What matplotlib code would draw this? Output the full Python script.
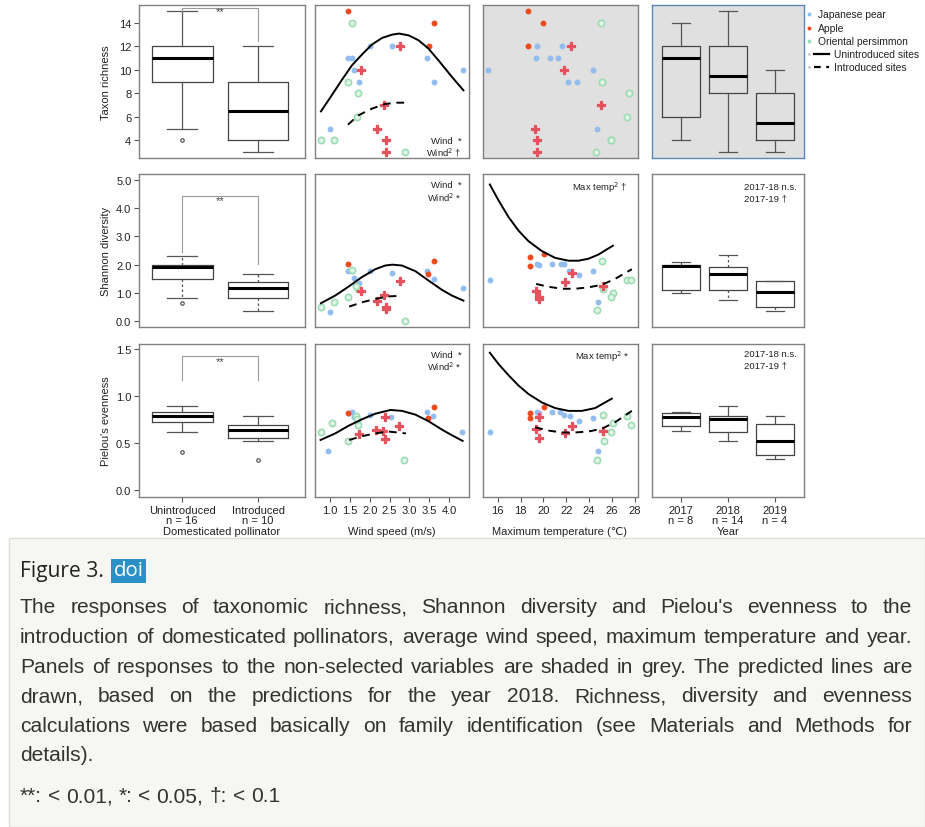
import matplotlib
matplotlib.use("Agg")
import matplotlib.pyplot as plt
from matplotlib.patches import Rectangle
from matplotlib.lines import Line2D

plt.rcParams['font.family'] = ['Liberation Sans', 'DejaVu Sans']

# ---------------- data ----------------
pollinator_labels = ['Unintroduced\nn = 16', 'Introduced\nn = 10']
year_labels = ['2017\nn = 8', '2018\nn = 14', '2019\nn = 4']
wind_ticks = [1.0, 1.5, 2.0, 2.5, 3.0, 3.5, 4.0]
temp_ticks = [16, 18, 20, 22, 24, 26, 28]
rich_ticks = [4, 6, 8, 10, 12, 14]
shan_ticks = [0.0, 1.0, 2.0, 3.0, 4.0, 5.0]
even_ticks = [0.0, 0.5, 1.0, 1.5]

# box stats: [whislo, q1, med, q3, whishi]
rich_poll = [[5, 9, 11, 12, 15], [3, 4, 6.5, 9, 12]]
rich_poll_out = [[4], []]
shan_poll = [[0.83, 1.51, 1.93, 1.98, 2.32], [0.35, 0.83, 1.17, 1.39, 1.67]]
shan_poll_out = [[0.64], []]
even_poll = [[0.615, 0.725, 0.79, 0.825, 0.89], [0.52, 0.55, 0.64, 0.69, 0.79]]
even_poll_out = [[0.405], [0.32]]
rich_year = [[4, 6, 11, 12, 14], [3, 8, 9.5, 12, 15], [3, 4, 5.5, 8, 10]]
shan_year = [[0.99, 1.12, 1.96, 1.99, 2.09], [0.75, 1.12, 1.66, 1.93, 2.35],
             [0.38, 0.49, 1.04, 1.43, 1.43]]
even_year = [[0.63, 0.68, 0.78, 0.815, 0.83], [0.52, 0.61, 0.75, 0.79, 0.89],
             [0.33, 0.37, 0.52, 0.70, 0.79]]

# groups: J = Japanese pear, A = Apple (unintroduced), a = Apple (introduced), O = Oriental persimmon
wr_x = [2.01, 2.57, 1.46, 1.55, 3.45, 1.61, 4.36, 1.73, 3.63, 0.99,
        1.46, 3.63, 3.48, 2.76, 1.77, 2.37, 2.17, 2.41, 2.41,
        1.55, 1.46, 1.71, 1.68, 0.77, 1.09, 2.88]
wr_y = [12, 12, 11, 11, 11, 10, 10, 9, 9, 5,
        15, 14, 12, 12, 10, 7, 5, 4, 3,
        14, 9, 8, 6, 4, 4, 3]
wr_g = 'JJJJJJJJJJAAAaaaaaaOOOOOOO'

ws_x = [1.44, 1.55, 1.61, 1.73, 2.01, 2.57, 3.45, 3.63, 4.36, 0.99,
        1.46, 3.63, 3.47, 1.77, 2.76, 2.37, 2.18, 2.41, 2.41,
        1.55, 1.70, 1.46, 1.09, 0.77, 2.88, 1.66]
ws_y = [1.77, 1.77, 1.52, 1.37, 1.77, 1.71, 1.77, 1.49, 1.17, 0.33,
        2.03, 2.14, 1.67, 1.08, 1.44, 0.94, 0.73, 0.52, 0.44,
        1.80, 1.15, 0.85, 0.68, 0.52, 0.02, 1.25]
ws_g = wr_g

we_x = [1.55, 3.43, 3.60, 2.00, 2.54, 1.71, 1.61, 0.96, 4.33, 1.47,
        1.44, 3.47, 3.62, 1.73, 2.39, 2.15, 2.33, 2.73, 2.39,
        1.65, 1.70, 1.06, 0.76, 1.44, 2.86, 1.68]
we_y = [0.83, 0.83, 0.79, 0.80, 0.78, 0.73, 0.77, 0.41, 0.62, 0.82,
        0.82, 0.76, 0.885, 0.59, 0.77, 0.64, 0.63, 0.68, 0.54,
        0.79, 0.69, 0.71, 0.615, 0.52, 0.32, 0.75]
we_g = wr_g

tr_x = [19.45, 21.67, 19.34, 20.62, 21.32, 15.17, 24.31, 22.15, 22.96, 24.69,
        18.69, 19.95, 18.63, 22.44, 21.85, 25.07, 19.28, 19.45, 19.45,
        25.07, 25.13, 27.53, 27.33, 25.92, 25.92, 24.60]
tr_y = [12, 12, 11, 11, 11, 10, 10, 9, 9, 5,
        15, 14, 12, 12, 10, 7, 5, 4, 3,
        14, 9, 8, 6, 4, 4, 3]
tr_g = wr_g

ts_x = [15.30, 19.45, 19.63, 20.74, 21.50, 21.80, 22.26, 23.08, 24.39, 24.78,
        18.78, 18.78, 20.04, 22.52, 21.93, 19.36, 19.57, 19.57, 25.22,
        25.22, 25.13, 26.10, 25.92, 27.35, 27.70, 24.69]
ts_y = [1.45, 2.03, 1.98, 2.02, 2.02, 2.02, 1.77, 1.64, 1.78, 0.69,
        2.26, 1.94, 2.36, 1.70, 1.40, 1.06, 0.87, 0.78, 1.25,
        1.14, 2.12, 1.01, 0.87, 1.45, 1.46, 0.40]
ts_g = wr_g

te_x = [15.30, 19.45, 20.74, 21.47, 21.85, 22.32, 23.08, 24.39, 24.78, 19.63,
        18.81, 18.78, 20.07, 19.39, 19.57, 19.57, 21.93, 22.52, 25.22,
        25.22, 26.10, 25.95, 25.28, 27.35, 27.70, 24.69]
te_y = [0.62, 0.83, 0.83, 0.83, 0.80, 0.79, 0.73, 0.76, 0.41, 0.82,
        0.82, 0.76, 0.885, 0.65, 0.77, 0.55, 0.60, 0.68, 0.63,
        0.80, 0.71, 0.62, 0.52, 0.79, 0.69, 0.32]
te_g = wr_g

# predicted lines
wr_fit_x = [0.77, 1.04, 1.29, 1.55, 1.80, 2.05, 2.31, 2.56, 2.74, 2.98, 3.23, 3.48, 3.73, 4.07, 4.36]
wr_fit_y = [6.46, 7.82, 9.10, 10.37, 11.28, 12.13, 12.70, 12.98, 13.07, 12.92, 12.50, 11.79, 10.80, 9.39, 8.25]
wr_int_x = [1.45, 1.71, 2.05, 2.39, 2.64, 2.89]
wr_int_y = [5.33, 6.12, 6.69, 7.09, 7.20, 7.20]
ws_fit_x = [0.77, 1.13, 1.46, 1.80, 2.14, 2.39, 2.57, 2.81, 3.15, 3.48, 3.82, 4.07, 4.36]
ws_fit_y = [0.64, 0.91, 1.22, 1.56, 1.84, 1.97, 2.00, 1.97, 1.77, 1.44, 1.11, 0.91, 0.73]
ws_int_x = [1.48, 1.80, 2.14, 2.47, 2.79]
ws_int_y = [0.52, 0.67, 0.79, 0.88, 0.90]
we_fit_x = [0.76, 1.13, 1.46, 1.80, 2.14, 2.52, 2.81, 3.15, 3.48, 3.82, 4.07, 4.34]
we_fit_y = [0.53, 0.60, 0.68, 0.75, 0.81, 0.85, 0.84, 0.80, 0.73, 0.64, 0.58, 0.52]
we_int_x = [1.48, 1.80, 2.14, 2.47, 2.91]
we_int_y = [0.53, 0.57, 0.60, 0.62, 0.60]
ts_fit_x = [15.30, 16.06, 16.94, 17.82, 18.69, 19.86, 21.03, 22.20, 23.08, 23.96, 24.84, 26.10]
ts_fit_y = [4.83, 4.27, 3.68, 3.20, 2.83, 2.48, 2.24, 2.14, 2.14, 2.21, 2.36, 2.67]
ts_int_x = [19.36, 20.45, 21.62, 22.79, 23.96, 25.13, 26.30, 27.76]
ts_int_y = [1.32, 1.22, 1.15, 1.15, 1.20, 1.29, 1.50, 1.84]
te_fit_x = [15.30, 16.06, 16.94, 17.82, 18.69, 19.86, 21.03, 22.20, 23.37, 24.54, 26.00]
te_fit_y = [1.46, 1.34, 1.22, 1.11, 1.02, 0.93, 0.87, 0.84, 0.84, 0.87, 0.97]
te_int_x = [19.28, 20.45, 21.62, 22.79, 23.96, 25.13, 26.30, 27.76]
te_int_y = [0.665, 0.63, 0.61, 0.61, 0.62, 0.65, 0.72, 0.84]

caption_lines = [
    "The responses of taxonomic richness, Shannon diversity and Pielou's evenness to the",
    "introduction of domesticated pollinators, average wind speed, maximum temperature and year.",
    "Panels of responses to the non-selected variables are shaded in grey. The predicted lines are",
    "drawn, based on the predictions for the year 2018. Richness, diversity and evenness",
    "calculations were based basically on family identification (see Materials and Methods for",
    "details).",
]
footnote = "**: < 0.01, *: < 0.05, \u2020: < 0.1"

# ---------------- layout ----------------
W, H = 925, 828
fig = plt.figure(figsize=(W / 100, H / 100), dpi=100)
fig.patch.set_facecolor('white')

cols = [(139, 305), (315, 469), (483, 638), (652, 804)]
rows = [(6, 159), (175, 328), (345, 498)]


def ax_at(c, r):
    x0, x1 = cols[c]
    y0, y1 = rows[r]
    return fig.add_axes([x0 / W, 1 - y1 / H, (x1 - x0) / W, (y1 - y0) / H])


SPINE = '#808080'
TXT = '#222222'
FS = 8


def style(ax, left=False, bottom=False, spine=SPINE, bg='white'):
    ax.set_facecolor(bg)
    for s in ax.spines.values():
        s.set_color(spine)
        s.set_linewidth(1.0)
    ax.tick_params(axis='both', colors='#555555', labelcolor=TXT, labelsize=FS,
                   length=3.5, width=0.8, pad=2)
    if not left:
        ax.tick_params(axis='y', left=False, labelleft=False)
    if not bottom:
        ax.tick_params(axis='x', bottom=False, labelbottom=False)


def boxes(ax, stats, outs, wls):
    bs = []
    for i, s in enumerate(stats):
        bs.append(dict(whislo=s[0], q1=s[1], med=s[2], q3=s[3], whishi=s[4],
                       fliers=outs[i] if outs else []))
    ax.bxp(bs, positions=range(1, len(bs) + 1), widths=0.8, capwidths=0.4,
           boxprops=dict(color='#444444', linewidth=0.9),
           whiskerprops=dict(color='#555555', linewidth=0.9, linestyle=wls),
           capprops=dict(color='#555555', linewidth=0.9),
           medianprops=dict(color='black', linewidth=2.2),
           flierprops=dict(marker='o', markersize=2.5, markerfacecolor='none',
                           markeredgecolor='#444444', markeredgewidth=0.8))


def bracket(ax, y, l0, r0, ty):
    ax.plot([1, 1, 2, 2], [l0, y, y, r0], color='#9a9a9a', linewidth=0.8)
    ax.text(1.5, ty, '**', ha='center', va='center', fontsize=8, color='#444444')


COL = {'J': '#92bdee', 'A': '#eb4b1e', 'a': '#e4525e', 'O': '#9ddcb2'}


def scatter(ax, xs, ys, gs):
    for g in 'JAOa':
        px = [x for x, gg in zip(xs, gs) if gg == g]
        py = [y for y, gg in zip(ys, gs) if gg == g]
        if g == 'O':
            ax.scatter(px, py, s=20, facecolor='#e2f5e8', edgecolor=COL[g], linewidth=1.2, zorder=3)
        elif g == 'a':
            ax.scatter(px, py, s=30, marker='P', facecolor=COL[g], edgecolor=COL[g],
                       linewidth=0.9, zorder=3)
        else:
            ax.scatter(px, py, s=18, color=COL[g], linewidth=0, zorder=3)


def fits(ax, fx, fy, ix, iy):
    ax.plot(fx, fy, color='black', linewidth=1.4, zorder=4)
    ax.plot(ix, iy, color='black', linewidth=1.4, dashes=(4, 3), zorder=4)


ylims = [(2.5, 15.5), (-0.2, 5.2), (-0.078, 1.553)]
yticks = [rich_ticks, shan_ticks, even_ticks]
yfmt = [lambda v: '%d' % v, lambda v: '%.1f' % v, lambda v: '%.1f' % v]
ylabels = ['Taxon richness', 'Shannon diversity', "Pielou's evenness"]

poll_stats = [rich_poll, shan_poll, even_poll]
poll_outs = [rich_poll_out, shan_poll_out, even_poll_out]
year_stats = [rich_year, shan_year, even_year]
wls = ['-', (0, (2, 2)), '-']
brk = [(15.27, 15.0, 12.4, 14.98), (4.41, 2.44, 2.03, 4.27), (1.42, 1.17, 1.17, 1.37)]

wind_sets = [(wr_x, wr_y, wr_g, wr_fit_x, wr_fit_y, wr_int_x, wr_int_y),
             (ws_x, ws_y, ws_g, ws_fit_x, ws_fit_y, ws_int_x, ws_int_y),
             (we_x, we_y, we_g, we_fit_x, we_fit_y, we_int_x, we_int_y)]
temp_sets = [(tr_x, tr_y, tr_g, None, None, None, None),
             (ts_x, ts_y, ts_g, ts_fit_x, ts_fit_y, ts_int_x, ts_int_y),
             (te_x, te_y, te_g, te_fit_x, te_fit_y, te_int_x, te_int_y)]

for r in range(3):
    last = (r == 2)
    # column 1: domesticated pollinator
    ax = ax_at(0, r)
    style(ax, left=True, bottom=last)
    boxes(ax, poll_stats[r], poll_outs[r], wls[r])
    b = brk[r]
    bracket(ax, b[0], b[1], b[2], b[3])
    ax.set_xlim(0.43, 2.62)
    ax.set_ylim(*ylims[r])
    ax.set_yticks(yticks[r])
    ax.set_yticklabels([yfmt[r](v) for v in yticks[r]])
    ax.set_xticks([1, 2])
    ax.set_xticklabels(pollinator_labels, linespacing=1.05)

    # column 2: wind
    ax = ax_at(1, r)
    style(ax, bottom=last)
    d = wind_sets[r]
    scatter(ax, d[0], d[1], d[2])
    fits(ax, d[3], d[4], d[5], d[6])
    ax.set_xlim(0.62, 4.5)
    ax.set_ylim(*ylims[r])
    ax.set_xticks(wind_ticks)
    ax.set_xticklabels(['%.1f' % v for v in wind_ticks])

    # column 3: temperature
    ax = ax_at(2, r)
    style(ax, bottom=last, bg='#e0e0e0' if r == 0 else 'white')
    d = temp_sets[r]
    scatter(ax, d[0], d[1], d[2])
    if d[3] is not None:
        fits(ax, d[3], d[4], d[5], d[6])
    ax.set_xlim(14.7, 28.3)
    ax.set_ylim(*ylims[r])
    ax.set_xticks(temp_ticks)
    ax.set_xticklabels(['%d' % v for v in temp_ticks])

    # column 4: year
    ax = ax_at(3, r)
    style(ax, bottom=last, bg='#e0e0e0' if r == 0 else 'white',
          spine='#5f86b6' if r == 0 else SPINE)
    boxes(ax, year_stats[r], None, wls[r] if r == 1 else '-')
    ax.set_xlim(0.38, 3.62)
    ax.set_ylim(*ylims[r])
    ax.set_xticks([1, 2, 3])
    ax.set_xticklabels(year_labels, linespacing=1.05)

# ---------------- overlay (pixel coordinates) ----------------
ov = fig.add_axes([0, 0, 1, 1], zorder=10)
ov.set_xlim(0, W)
ov.set_ylim(H, 0)
ov.set_axis_off()

# y labels
for r in range(3):
    yc = (rows[r][0] + rows[r][1]) / 2
    ov.text(106, yc, ylabels[r], rotation=90, ha='center', va='center', fontsize=FS, color=TXT)

# x axis titles
ov.text(222, 532, 'Domesticated pollinator', ha='center', va='center', fontsize=FS, color=TXT)
ov.text(392, 532, 'Wind speed (m/s)', ha='center', va='center', fontsize=FS, color=TXT)
ov.text(560, 532, 'Maximum temperature (\u2103)', ha='center', va='center', fontsize=FS,
        color=TXT, family=['Liberation Sans', 'DejaVu Sans'])
ov.text(728, 532, 'Year', ha='center', va='center', fontsize=FS, color=TXT)

# test annotations
AF = 6.8
ov.text(462, 141, 'Wind  *', ha='right', va='center', fontsize=AF, color=TXT)
ov.text(462, 153, 'Wind$^2$ \u2020', ha='right', va='center', fontsize=AF, color=TXT)
ov.text(462, 186, 'Wind  *', ha='right', va='center', fontsize=AF, color=TXT)
ov.text(462, 198, 'Wind$^2$ *', ha='right', va='center', fontsize=AF, color=TXT)
ov.text(462, 356, 'Wind  *', ha='right', va='center', fontsize=AF, color=TXT)
ov.text(462, 367, 'Wind$^2$ *', ha='right', va='center', fontsize=AF, color=TXT)
ov.text(628, 188, 'Max temp$^2$ \u2020', ha='right', va='center', fontsize=AF, color=TXT)
ov.text(630, 357, 'Max temp$^2$ *', ha='right', va='center', fontsize=AF, color=TXT)
ov.text(797, 188, '2017-18 n.s.', ha='right', va='center', fontsize=AF, color=TXT)
ov.text(787, 199, '2017-19 \u2020', ha='right', va='center', fontsize=AF, color=TXT)
ov.text(797, 355, '2017-18 n.s.', ha='right', va='center', fontsize=AF, color=TXT)
ov.text(787, 366, '2017-19 \u2020', ha='right', va='center', fontsize=AF, color=TXT)

# legend
LF = 7.4
leg_items = [('Japanese pear', 'J'), ('Apple', 'A'), ('Oriental persimmon', 'O')]
for i, (lab, g) in enumerate(leg_items):
    y = 15 + 13.5 * i
    ov.scatter([809], [y], s=8, color=COL[g], linewidth=0)
    ov.text(818, y, lab, ha='left', va='center', fontsize=LF, color=TXT)
for i, (lab, dsh) in enumerate([('Unintroduced sites', None), ('Introduced sites', (3, 2.5))]):
    y = 55 + 13 * i
    ov.scatter([809], [y], s=5, color='#d0d0d0', linewidth=0)
    ln = Line2D([814, 829], [y, y], color='black', linewidth=1.6)
    if dsh:
        ln.set_dashes(dsh)
    ov.add_line(ln)
    ov.text(834, y, lab, ha='left', va='center', fontsize=LF, color=TXT)

# ---------------- caption ----------------
ov.add_patch(Rectangle((9, 539), W - 9, H - 539, facecolor='#f6f6f2', edgecolor='#dddddd',
                       linewidth=1.0, zorder=0))
renderer = fig.canvas.get_renderer()
CFAM = ['Liberation Sans', 'DejaVu Sans']


def text_width(s, size, fam):
    t = ov.text(0, 0, s, fontsize=size, family=fam)
    w = t.get_window_extent(renderer).width
    t.remove()
    return w


# size the caption font so the second (unstretched) line fills the column
CF = 10 * 884 / text_width(caption_lines[1], 10, CFAM)
SPACE = text_width('a a', CF, CFAM) - text_width('aa', CF, CFAM)

ov.text(20, 572, 'Figure 3.', ha='left', va='center', fontsize=CF, color='#222222',
        family=['Open Sans', 'DejaVu Sans'])
ov.add_patch(Rectangle((111, 560), 35, 24, facecolor='#2b90c6', edgecolor='none', zorder=1))
ov.text(128.5, 571.5, 'doi', ha='center', va='center', fontsize=CF - 0.5, color='white',
        family=['Open Sans', 'DejaVu Sans'], zorder=2)


def put_line(text, y, x0, x1, justify):
    words = text.split(' ')
    arts = [ov.text(0, y, w, ha='left', va='center', fontsize=CF, color='#333333', family=CFAM)
            for w in words]
    widths = [a.get_window_extent(renderer).width for a in arts]
    if justify and len(words) > 1:
        gap = (x1 - x0 - sum(widths)) / (len(words) - 1)
    else:
        gap = SPACE
    x = x0
    for a, w in zip(arts, widths):
        a.set_x(x)
        x += w + gap


for i, line in enumerate(caption_lines):
    put_line(line, 608 + 29.6 * i, 20, 912, i < len(caption_lines) - 1)
put_line(footnote, 797, 20, 912, False)

fig.savefig('out.png', dpi=100)
